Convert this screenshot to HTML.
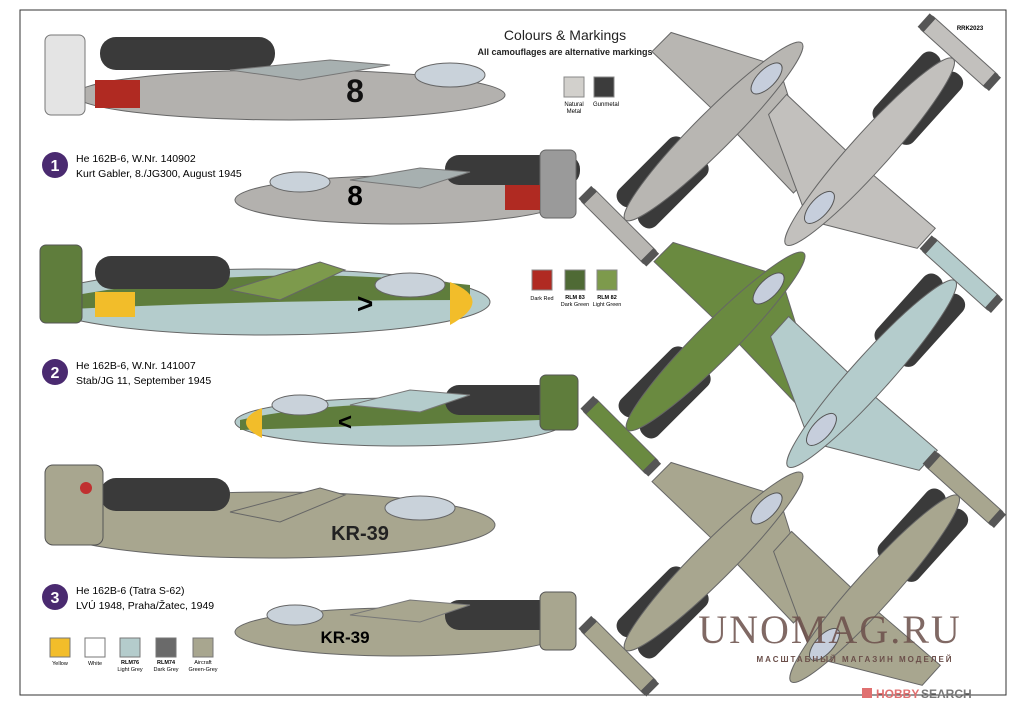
<!DOCTYPE html>
<html><head><meta charset="utf-8"><style>
html,body{margin:0;padding:0;background:#fff;width:1020px;height:713px;overflow:hidden;}
svg{display:block;font-family:"Liberation Sans",sans-serif;}
</style></head><body>
<svg width="1020" height="713" viewBox="0 0 1020 713" xmlns="http://www.w3.org/2000/svg">
<defs>
<g id="top">
  <polygon points="90,-14 45,-100 18,-100 20,-14" fill="currentColor" stroke="#666" stroke-width="1"/>
  <polygon points="90,14 45,100 18,100 20,14" fill="currentColor" stroke="#666" stroke-width="1"/>
  <rect x="-112" y="-26" width="90" height="22" rx="10" fill="#3a3a3a"/>
  <rect x="-112" y="4" width="90" height="22" rx="10" fill="#3a3a3a"/>
  <ellipse cx="5" cy="0" rx="125" ry="19" fill="currentColor" stroke="#666"/>
  <rect x="-138" y="-46" width="18" height="92" rx="3" fill="currentColor" stroke="#666"/>
  <rect x="-138" y="-48" width="18" height="8" fill="#555"/>
  <rect x="-138" y="40" width="18" height="8" fill="#555"/>
  <ellipse cx="80" cy="0" rx="20" ry="9" fill="#c6cedc" stroke="#555"/>
</g>
</defs>
<rect x="20" y="10" width="986" height="685" fill="none" stroke="#333" stroke-width="1"/>
<text x="565" y="40" font-size="14" text-anchor="middle" fill="#222">Colours &amp; Markings</text>
<text x="565" y="55" font-size="9" text-anchor="middle" font-weight="bold" fill="#222">All camouflages are alternative markings</text>
<text x="970" y="30" font-size="6" text-anchor="middle" font-weight="bold">RRK2023</text>
<rect x="564" y="77" width="20" height="20" fill="#d2d0cc" stroke="#888"/>
<rect x="594" y="77" width="20" height="20" fill="#3c3c3c" stroke="#888"/>
<text x="574" y="106" font-size="6" text-anchor="middle">Natural</text><text x="574" y="113" font-size="6" text-anchor="middle">Metal</text>
<text x="606" y="106" font-size="6" text-anchor="middle">Gunmetal</text>
<rect x="532" y="270" width="20" height="20" fill="#b02a22" stroke="#888"/>
<rect x="565" y="270" width="20" height="20" fill="#4f6a35" stroke="#888"/>
<rect x="597" y="270" width="20" height="20" fill="#7d9a4c" stroke="#888"/>
<text x="542" y="300" font-size="5.5" text-anchor="middle">Dark Red</text>
<text x="575" y="299" font-size="5.5" text-anchor="middle" font-weight="bold">RLM 83</text><text x="575" y="306" font-size="5.5" text-anchor="middle">Dark Green</text>
<text x="607" y="299" font-size="5.5" text-anchor="middle" font-weight="bold">RLM 82</text><text x="607" y="306" font-size="5.5" text-anchor="middle">Light Green</text>

<ellipse cx="290" cy="95" rx="215" ry="25" fill="#b3b1ae" stroke="#666"/>
<rect x="100" y="37" width="175" height="33" rx="16" fill="#3a3a3a"/>
<polygon points="230,70 330,60 390,65 300,80" fill="#a7b0b0" stroke="#777"/>
<rect x="45" y="35" width="40" height="80" rx="6" fill="#e4e4e4" stroke="#777"/>
<rect x="95" y="80" width="45" height="28" fill="#b02a22"/>
<ellipse cx="450" cy="75" rx="35" ry="12" fill="#c9d2da" stroke="#666"/>
<text x="355" y="102" font-size="32" font-weight="bold" text-anchor="middle" fill="#111">8</text>
<circle cx="55" cy="165" r="13" fill="#4a2a70"/><text x="55" y="171" font-size="16" font-weight="bold" fill="#fff" text-anchor="middle">1</text>
<text x="76" y="162" font-size="10.5">He 162B-6, W.Nr. 140902</text>
<text x="76" y="177" font-size="10.5">Kurt Gabler, 8./JG300, August 1945</text>
<ellipse cx="400" cy="200" rx="165" ry="24" fill="#b3b1ae" stroke="#666"/>
<rect x="445" y="155" width="135" height="30" rx="14" fill="#3a3a3a"/>
<polygon points="350,180 420,168 470,172 420,188" fill="#a7b0b0" stroke="#777"/>
<rect x="540" y="150" width="36" height="68" rx="6" fill="#9a9a9a" stroke="#666"/>
<rect x="505" y="185" width="35" height="25" fill="#b02a22"/>
<ellipse cx="300" cy="182" rx="30" ry="10" fill="#c9d2da" stroke="#666"/>
<text x="355" y="205" font-size="28" font-weight="bold" text-anchor="middle">8</text>

<ellipse cx="265" cy="302" rx="225" ry="33" fill="#b4cccc" stroke="#666"/>
<path d="M50,300 Q250,260 470,285 L470,300 Q250,300 50,310Z" fill="#5f7d3c"/>
<rect x="95" y="256" width="135" height="33" rx="16" fill="#3a3a3a"/>
<polygon points="230,290 320,262 345,270 280,300" fill="#7d9a4c" stroke="#666"/>
<rect x="40" y="245" width="42" height="78" rx="6" fill="#5f7d3c" stroke="#555"/>
<rect x="95" y="292" width="40" height="25" fill="#f2bd2a"/>
<path d="M450,282 Q495,300 450,325Z" fill="#f2bd2a"/>
<ellipse cx="410" cy="285" rx="35" ry="12" fill="#c9d2da" stroke="#666"/>
<text x="365" y="313" font-size="28" font-weight="bold" text-anchor="middle">&gt;</text>
<circle cx="55" cy="372" r="13" fill="#4a2a70"/><text x="55" y="378" font-size="16" font-weight="bold" fill="#fff" text-anchor="middle">2</text>
<text x="76" y="369" font-size="10.5">He 162B-6, W.Nr. 141007</text>
<text x="76" y="384" font-size="10.5">Stab/JG 11, September 1945</text>
<ellipse cx="400" cy="422" rx="165" ry="24" fill="#b4cccc" stroke="#666"/>
<path d="M240,420 Q350,395 540,408 L540,420 Q400,425 240,430Z" fill="#5f7d3c"/>
<rect x="445" y="385" width="120" height="30" rx="14" fill="#3a3a3a"/>
<polygon points="350,405 410,390 470,395 420,412" fill="#b4cccc" stroke="#777"/>
<rect x="540" y="375" width="38" height="55" rx="6" fill="#5f7d3c" stroke="#555"/>
<path d="M262,408 Q230,422 262,438Z" fill="#f2bd2a"/>
<ellipse cx="300" cy="405" rx="28" ry="10" fill="#c9d2da" stroke="#666"/>
<text x="345" y="430" font-size="24" font-weight="bold" text-anchor="middle">&lt;</text>

<ellipse cx="270" cy="525" rx="225" ry="33" fill="#a8a68f" stroke="#666"/>
<rect x="100" y="478" width="130" height="33" rx="16" fill="#3a3a3a"/>
<polygon points="230,512 320,488 345,495 280,522" fill="#a8a68f" stroke="#666"/>
<rect x="45" y="465" width="58" height="80" rx="8" fill="#a8a68f" stroke="#555"/>
<circle cx="86" cy="488" r="6" fill="#c03030"/>
<ellipse cx="420" cy="508" rx="35" ry="12" fill="#c9d2da" stroke="#666"/>
<text x="360" y="540" font-size="20" font-weight="bold" text-anchor="middle" fill="#222">KR-39</text>
<circle cx="55" cy="597" r="13" fill="#4a2a70"/><text x="55" y="603" font-size="16" font-weight="bold" fill="#fff" text-anchor="middle">3</text>
<text x="76" y="594" font-size="10.5">He 162B-6 (Tatra S-62)</text>
<text x="76" y="609" font-size="10.5">LVÚ 1948, Praha/Žatec, 1949</text>
<ellipse cx="400" cy="632" rx="165" ry="24" fill="#a8a68f" stroke="#666"/>
<rect x="445" y="600" width="125" height="30" rx="14" fill="#3a3a3a"/>
<polygon points="350,615 410,600 470,605 420,622" fill="#a8a68f" stroke="#777"/>
<rect x="540" y="592" width="36" height="58" rx="6" fill="#a8a68f" stroke="#555"/>
<ellipse cx="295" cy="615" rx="28" ry="10" fill="#c9d2da" stroke="#666"/>
<text x="345" y="643" font-size="17" font-weight="bold" text-anchor="middle">KR-39</text>

<g font-size="5.5" text-anchor="middle">
<rect x="50" y="638" width="20" height="19" fill="#f2bd2a" stroke="#777"/><text x="60" y="665">Yellow</text>
<rect x="85" y="638" width="20" height="19" fill="#fff" stroke="#777"/><text x="95" y="665">White</text>
<rect x="120" y="638" width="20" height="19" fill="#b4cccc" stroke="#777"/><text x="130" y="664" font-weight="bold">RLM76</text><text x="130" y="671">Light Grey</text>
<rect x="156" y="638" width="20" height="19" fill="#6a6a6a" stroke="#777"/><text x="166" y="664" font-weight="bold">RLM74</text><text x="166" y="671">Dark Grey</text>
<rect x="193" y="638" width="20" height="19" fill="#a8a68f" stroke="#777"/><text x="203" y="664">Aircraft</text><text x="203" y="671">Green-Grey</text>
</g>

<use href="#top" transform="translate(710,135) rotate(-45)" color="#b8b6b2"/>
<use href="#top" transform="translate(873,148) rotate(132)" color="#c2c0bd"/>
<use href="#top" transform="translate(712,345) rotate(-45)" color="#6a8a40"/>
<use href="#top" transform="translate(875,370) rotate(132)" color="#b4cccc"/>
<use href="#top" transform="translate(710,565) rotate(-45)" color="#a8a68f"/>
<use href="#top" transform="translate(878,585) rotate(132)" color="#a8a68f"/>

<text x="830" y="643" font-size="40" text-anchor="middle" fill="#6b4f4a" opacity="0.85" font-family="Liberation Serif,serif" letter-spacing="2">UNOMAG.RU</text>
<text x="855" y="662" font-size="8" text-anchor="middle" fill="#6b4f4a" letter-spacing="2" font-weight="bold">МАСШТАБНЫЙ МАГАЗИН МОДЕЛЕЙ</text>
<rect x="862" y="688" width="10" height="10" fill="#e07070"/>
<text x="876" y="698" font-size="12" font-weight="bold" fill="#e07070">HOBBY</text>
<text x="921" y="698" font-size="12" font-weight="bold" fill="#777">SEARCH</text>
</svg>
</body></html>
